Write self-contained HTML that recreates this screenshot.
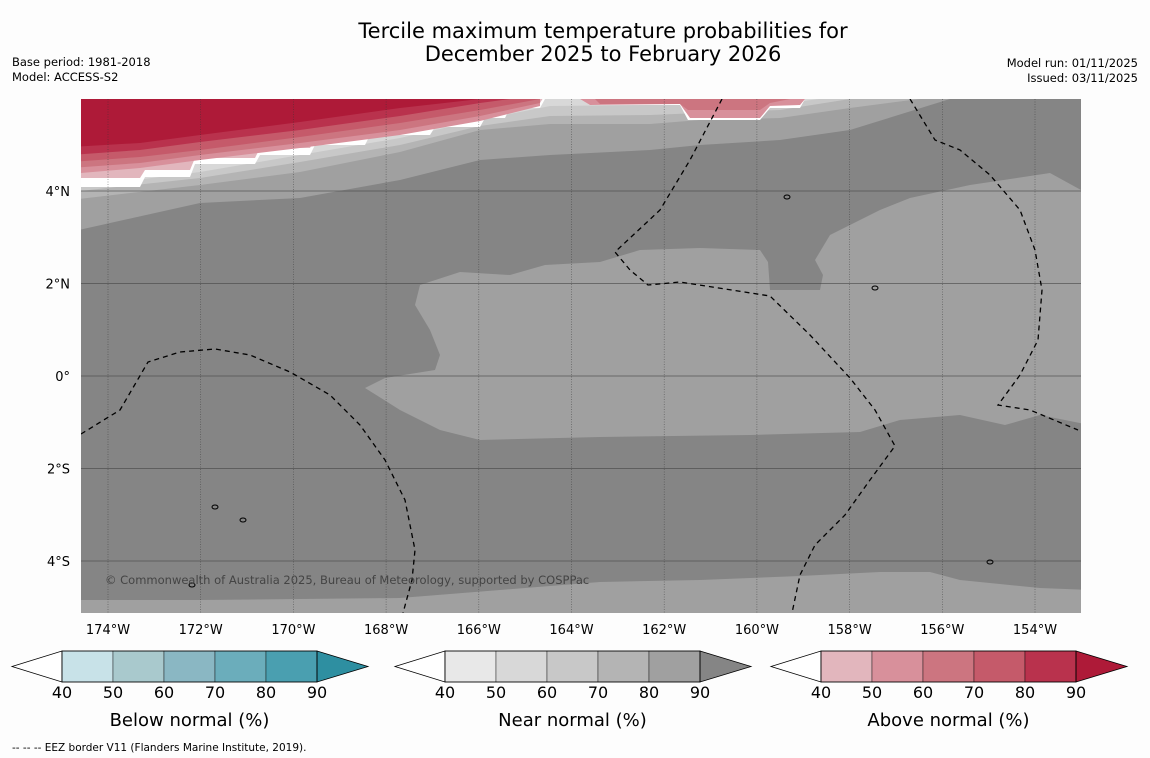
<!DOCTYPE html>
<html><head><meta charset="utf-8">
<style>
body{margin:0;background:#fdfdfd;font-family:"DejaVu Sans","Liberation Sans",sans-serif;}
#wrap{position:relative;width:1150px;height:758px;overflow:hidden;background:#fdfdfd}
</style></head>
<body>
<div id="wrap">
<svg id="svg" width="1150" height="758" xmlns="http://www.w3.org/2000/svg" font-family="DejaVu Sans, Liberation Sans, sans-serif">
<text x="603" y="38" font-size="21" text-anchor="middle">Tercile maximum temperature probabilities for</text>
<text x="603" y="61" font-size="21" text-anchor="middle">December 2025 to February 2026</text>
<text x="12" y="66" font-size="11.5">Base period: 1981-2018</text>
<text x="12" y="81" font-size="11.5">Model: ACCESS-S2</text>
<text x="1138" y="67" font-size="11.5" text-anchor="end">Model run: 01/11/2025</text>
<text x="1138" y="82" font-size="11.5" text-anchor="end">Issued: 03/11/2025</text>
<defs><clipPath id="mc"><rect x="81" y="99" width="1000" height="514"/></clipPath></defs>
<g id="map" clip-path="url(#mc)"></g>
<g id="axes"></g>
<g id="cbars"></g>
<text x="12" y="751" font-size="10.5">--  --  -- EEZ border V11 (Flanders Marine Institute, 2019).</text>
</svg>
</div>
<script>
const lonTicks=[-174,-172,-170,-168,-166,-164,-162,-160,-158,-156,-154];
const latTicks=[4,2,0,-2,-4];
const latLabels=["4°N","2°N","0°","2°S","4°S"];
const cbValues=[40,50,60,70,80,90];
const belowColors=["#c8e2e8","#a9c9cd","#8ab7c3","#6badbb","#4a9fb0","#2e8fa1"];
const nearColors=["#e8e8e8","#d8d8d8","#c8c8c8","#b4b4b4","#a0a0a0","#858585"];
const aboveColors=["#e2b6bd","#d8909b","#cc7580","#c55a6a","#b9324d","#ae1a38"];
const NS="http://www.w3.org/2000/svg";
const X=lon=>108+(lon+174)*46.35, Y=lat=>376-lat*46.25;
const Lx=x=>(x-108)/46.35-174, Ly=y=>(376-y)/46.25;
function el(t,a,p){const e=document.createElementNS(NS,t);for(const k in a)e.setAttribute(k,a[k]);p.appendChild(e);return e;}
const map=document.getElementById('map'),axes=document.getElementById('axes'),cb=document.getElementById('cbars');
const toLL=pts=>pts.map(p=>[Lx(p[0]),Ly(p[1])]);
const topPoly=(xs,ys)=>toLL([[70,95],...xs.map((x,i)=>[x,ys[i]]),[xs[xs.length-1],95]]);
const xsT=[70,200,300,400,480,550,650,700,780,850,950,1090];
const xsP=[70,140,200,300,400,480,540];
const regions=[
 {c:"#858585",p:toLL([[70,95],[1090,95],[1090,620],[70,620]])},
 {c:"#a0a0a0",p:topPoly(xsT,[232,203,198,180,160,155,150,145,140,130,99,99])},
 {c:"#b4b4b4",p:topPoly(xsT,[200,185,172,152,130,124,124,120,118,108,95,95])},
 {c:"#c8c8c8",p:topPoly(xsT,[192,178,162,145,126,116,115,113,110,99,95,95])},
 {c:"#d8d8d8",p:topPoly(xsT,[188,172,155,138,120,106,105,105,104,95,95,95])},
 {c:"#ffffff",p:toLL([[70,95],[70,187],[140,187],[145,177],[190,177],[195,164],[255,164],[260,155],[310,155],[315,145],[365,145],[370,135],[430,135],[435,127],[480,127],[485,118],[505,118],[510,108],[540,108],[545,99],[580,99],[590,105],[680,105],[688,120],[760,120],[770,108],[800,108],[805,99],[830,99],[830,95]])},
 {c:"#e2b6bd",p:toLL([[70,95],[70,178],[140,178],[145,170],[190,170],[195,158],[255,158],[260,148],[310,148],[315,139],[365,139],[370,129],[430,129],[435,121],[480,121],[485,112],[505,112],[510,103],[540,103],[545,95]])},
 {c:"#d8909b",p:topPoly(xsP,[174,168,160,148,135,121,106])},
 {c:"#cc7580",p:topPoly(xsP,[168,163,155,143,130,116,103])},
 {c:"#c55a6a",p:topPoly(xsP,[162,157,150,137,123,110,99])},
 {c:"#b9324d",p:topPoly(xsP,[155,150,142,130,116,103,95])},
 {c:"#ae1a38",p:topPoly(xsP,[147,143,135,122,108,99,95])},
 {c:"#d8909b",p:toLL([[580,99],[590,105],[680,104],[690,118],[760,118],[770,106],[800,105],[805,99]])},
 {c:"#cc7580",p:toLL([[595,99],[600,104],[680,104],[688,110],[760,110],[770,103],[790,99]])},
 {c:"#a0a0a0",p:toLL([[365,388],[385,378],[435,370],[440,355],[430,330],[415,305],[420,285],[460,272],[510,275],[545,265],[600,262],[640,250],[700,248],[760,250],[768,262],[770,290],[820,290],[823,275],[815,260],[830,235],[850,225],[880,210],[910,198],[970,185],[1050,173],[1081,190],[1090,190],[1090,425],[1040,415],[1005,425],[960,415],[900,420],[860,432],[750,435],[600,437],[480,440],[440,430],[400,410]])},
 {c:"#a0a0a0",p:toLL([[70,600],[200,600],[400,598],[500,590],[600,582],[700,580],[800,576],[880,572],[930,572],[960,580],[1040,588],[1090,590],[1090,620],[70,620]])}
];
regions.forEach((r,i)=>{
 const e=el('polygon',{points:r.p.map(q=>X(q[0])+','+Y(q[1])).join(' '),fill:r.c},map);
 
 
});
lonTicks.forEach(l=>{const g=el('line',{x1:X(l),x2:X(l),y1:99,y2:613,stroke:"#333","stroke-width":0.6,"stroke-dasharray":"1,1.5",opacity:0.7},map);
 
 const t=el('text',{x:X(l),y:634,"font-size":13,"text-anchor":"middle"},axes);t.textContent=Math.abs(l)+"°W";
 });
latTicks.forEach((l,i)=>{const g=el('line',{x1:81,x2:1081,y1:Y(l),y2:Y(l),stroke:"#444","stroke-width":0.7,opacity:0.8},map);
 
 const t=el('text',{x:70,y:Y(l)+5,"font-size":13,"text-anchor":"end"},axes);t.textContent=latLabels[i];
 });
const eez=[
 [[81,434],[120,410],[148,362],[180,352],[215,349],[250,355],[290,372],[330,395],[360,425],[385,460],[405,500],[415,550],[412,580],[403,613]],
 [[722,99],[690,160],[660,210],[615,252],[630,270],[648,285],[680,282],[770,296],[810,335],[850,378],[875,410],[895,446],[870,480],[845,515],[815,545],[800,575],[792,613]],
 [[910,99],[935,140],[960,150],[990,175],[1020,210],[1035,250],[1042,290],[1038,340],[1020,375],[998,405],[1030,410],[1078,430]]
];
eez.forEach(pts=>{const e=el('polyline',{points:toLL(pts).map(q=>X(q[0])+','+Y(q[1])).join(' '),fill:"none",stroke:"#000","stroke-width":1.3,"stroke-dasharray":"5,4"},map);
 });
[[787,197],[875,288],[215,507],[192,585],[990,562],[243,520]].forEach(p=>{const e=el('ellipse',{cx:p[0],cy:p[1],rx:3,ry:2,fill:"none",stroke:"#000","stroke-width":1},map);
 });
const cr=el('text',{x:105,y:584,"font-size":11.5,fill:"#444"},map);cr.textContent="© Commonwealth of Australia 2025, Bureau of Meteorology, supported by COSPPac";

function bar(x0,colors,label,name){
 const g=el('g',{},cb);
 const w=51,y0=651,h=31,bx=x0+50;
 el('polygon',{points:`${x0},${y0+h/2} ${bx},${y0} ${bx},${y0+h}`,fill:"#fff",stroke:"#000","stroke-width":0.8},g);
 for(let i=0;i<5;i++)el('rect',{x:bx+i*w,y:y0,width:w,height:h,fill:colors[i],stroke:"#000","stroke-width":0.4},g);
 const ex=bx+5*w;
 el('polygon',{points:`${ex},${y0} ${ex+51},${y0+h/2} ${ex},${y0+h}`,fill:colors[5],stroke:"#000","stroke-width":0.8},g);
 el('rect',{x:bx,y:y0,width:5*w,height:h,fill:"none",stroke:"#000","stroke-width":0.8},g);
 cbValues.forEach((v,i)=>{const t=el('text',{x:bx+i*w,y:y0+h+16,"font-size":16,"text-anchor":"middle"},g);t.textContent=v;});
 const t=el('text',{x:bx+2.5*w,y:726,"font-size":18,"text-anchor":"middle"},g);t.textContent=label;
}
bar(12,belowColors,"Below normal (%)","below-normal-colorbar");
bar(395,nearColors,"Near normal (%)","near-normal-colorbar");
bar(771,aboveColors,"Above normal (%)","above-normal-colorbar");
</script>
</body></html>
